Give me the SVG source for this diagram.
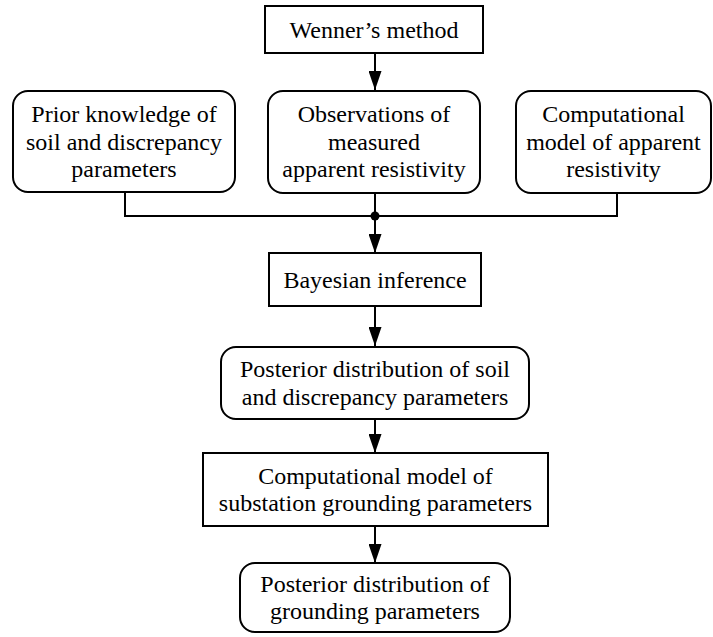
<svg xmlns="http://www.w3.org/2000/svg" width="713" height="637" viewBox="0 0 713 637">
<style>
.box{fill:#fff;stroke:#000;stroke-width:2}
.t{font-family:'Liberation Serif','DejaVu Serif','Times New Roman',serif;font-size:24px;fill:#000;text-anchor:middle}
.ln{fill:none;stroke:#000;stroke-width:2}
</style>
<defs>
<marker id="ah" markerUnits="userSpaceOnUse" markerWidth="19" markerHeight="13" refX="19" refY="6.5" orient="auto" viewBox="0 0 19 13">
<path d="M0,0 L19,6.5 L0,13 Z" fill="#000"/>
</marker>
</defs>
<g id="connectors">
<line class="ln" x1="375" y1="53" x2="375" y2="90" marker-end="url(#ah)"/>
<polyline class="ln" points="125,192 125,216 617,216 617,193"/>
<line class="ln" x1="375" y1="193" x2="375" y2="216"/>
<circle cx="375" cy="216" r="4.5" fill="#000"/>
<line class="ln" x1="375" y1="216" x2="375" y2="253" marker-end="url(#ah)"/>
<line class="ln" x1="375" y1="306" x2="375" y2="346" marker-end="url(#ah)"/>
<line class="ln" x1="375" y1="419" x2="375" y2="453" marker-end="url(#ah)"/>
<line class="ln" x1="375" y1="526" x2="375" y2="563" marker-end="url(#ah)"/>
</g>
<g id="wenner">
<rect class="box" x="265" y="6" width="218" height="47"/>
<text class="t" font-family="Liberation Serif, serif" x="374" y="37.5">Wenner’s method</text>
</g>
<g id="prior">
<rect class="box" x="13" y="91" width="222" height="101" rx="15"/>
<text class="t" font-family="Liberation Serif, serif" x="124" y="122">Prior knowledge of</text>
<text class="t" font-family="Liberation Serif, serif" x="124" y="149.5">soil and discrepancy</text>
<text class="t" font-family="Liberation Serif, serif" x="124" y="177">parameters</text>
</g>
<g id="observations">
<rect class="box" x="268" y="91" width="212" height="102" rx="15"/>
<text class="t" font-family="Liberation Serif, serif" x="374" y="122">Observations of</text>
<text class="t" font-family="Liberation Serif, serif" x="374" y="149.5">measured</text>
<text class="t" font-family="Liberation Serif, serif" x="374" y="177">apparent resistivity</text>
</g>
<g id="computational">
<rect class="box" x="516" y="91" width="195" height="102" rx="15"/>
<text class="t" font-family="Liberation Serif, serif" x="613.5" y="122">Computational</text>
<text class="t" font-family="Liberation Serif, serif" x="613.5" y="149.5">model of apparent</text>
<text class="t" font-family="Liberation Serif, serif" x="613.5" y="177">resistivity</text>
</g>
<g id="bayesian">
<rect class="box" x="269" y="253" width="212" height="53"/>
<text class="t" font-family="Liberation Serif, serif" x="375" y="288">Bayesian inference</text>
</g>
<g id="posterior1">
<rect class="box" x="221" y="347" width="308" height="72" rx="15"/>
<text class="t" font-family="Liberation Serif, serif" x="375" y="377">Posterior distribution of soil</text>
<text class="t" font-family="Liberation Serif, serif" x="375" y="404.5">and discrepancy parameters</text>
</g>
<g id="grounding-model">
<rect class="box" x="203" y="453" width="345" height="73"/>
<text class="t" font-family="Liberation Serif, serif" x="375.5" y="483.5">Computational model of</text>
<text class="t" font-family="Liberation Serif, serif" x="375.5" y="511">substation grounding parameters</text>
</g>
<g id="posterior2">
<rect class="box" x="240" y="563" width="270" height="69" rx="15"/>
<text class="t" font-family="Liberation Serif, serif" x="375" y="591.5">Posterior distribution of</text>
<text class="t" font-family="Liberation Serif, serif" x="375" y="619">grounding parameters</text>
</g>
</svg>
